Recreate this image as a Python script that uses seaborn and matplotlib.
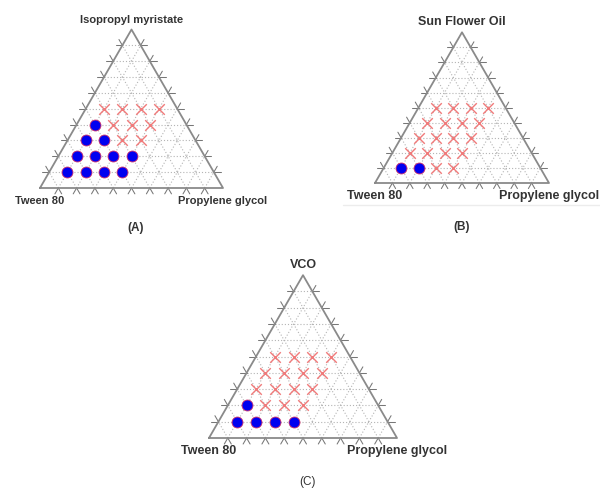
import numpy as np
import pandas as pd
import matplotlib
matplotlib.use('Agg')
import matplotlib.pyplot as plt
import seaborn as sns
from matplotlib.lines import Line2D

# compositions (fraction of oil, fraction of propylene glycol); Tween 80 is the rest
oil_A = [0.1, 0.1, 0.1, 0.1, 0.2, 0.2, 0.2, 0.2, 0.3, 0.3, 0.3, 0.3, 0.4, 0.4, 0.4, 0.4, 0.5, 0.5, 0.5, 0.5]
pg_A = [0.1, 0.2, 0.3, 0.4, 0.1, 0.2, 0.3, 0.4, 0.1, 0.2, 0.3, 0.4, 0.1, 0.2, 0.3, 0.4, 0.1, 0.2, 0.3, 0.4]
phase_A = ['clear', 'clear', 'clear', 'clear', 'clear', 'clear', 'clear', 'clear', 'clear', 'clear',
           'turbid', 'turbid', 'clear', 'turbid', 'turbid', 'turbid', 'turbid', 'turbid', 'turbid', 'turbid']

oil_B = [0.1, 0.1, 0.1, 0.1, 0.2, 0.2, 0.2, 0.2, 0.3, 0.3, 0.3, 0.3, 0.4, 0.4, 0.4, 0.4, 0.5, 0.5, 0.5, 0.5]
pg_B = [0.1, 0.2, 0.3, 0.4, 0.1, 0.2, 0.3, 0.4, 0.1, 0.2, 0.3, 0.4, 0.1, 0.2, 0.3, 0.4, 0.1, 0.2, 0.3, 0.4]
phase_B = ['clear', 'clear', 'turbid', 'turbid', 'turbid', 'turbid', 'turbid', 'turbid', 'turbid', 'turbid',
           'turbid', 'turbid', 'turbid', 'turbid', 'turbid', 'turbid', 'turbid', 'turbid', 'turbid', 'turbid']

oil_C = [0.1, 0.1, 0.1, 0.1, 0.2, 0.2, 0.2, 0.2, 0.3, 0.3, 0.3, 0.3, 0.4, 0.4, 0.4, 0.4, 0.5, 0.5, 0.5, 0.5]
pg_C = [0.1, 0.2, 0.3, 0.4, 0.1, 0.2, 0.3, 0.4, 0.1, 0.2, 0.3, 0.4, 0.1, 0.2, 0.3, 0.4, 0.1, 0.2, 0.3, 0.4]
phase_C = ['clear', 'clear', 'clear', 'clear', 'clear', 'turbid', 'turbid', 'turbid', 'turbid', 'turbid',
           'turbid', 'turbid', 'turbid', 'turbid', 'turbid', 'turbid', 'turbid', 'turbid', 'turbid', 'turbid']

oils = ['Isopropyl myristate', 'Sun Flower Oil', 'VCO']
letters = ['(A)', '(B)', '(C)']

sns.set_style('white')
plt.rcParams['font.family'] = ['Liberation Sans', 'DejaVu Sans']

H = np.sqrt(3) / 2
W, HT = 600, 488
GRID = '#b4b4b4'
EDGE = '#8a8a8a'


def to_xy(oil, pg):
    oil = np.asarray(oil)
    pg = np.asarray(pg)
    return pg + oil / 2, oil * H


def ternary(ax, df, title, fs):
    ax.set_xlim(0, 1)
    ax.set_ylim(0, H)
    ax.axis('off')
    L = 0.037
    for k in range(1, 10):
        t = k / 10
        kw = dict(color=GRID, lw=0.8, ls=(0, (1, 1.8)), zorder=1)
        ax.plot([t / 2, 1 - t / 2], [t * H, t * H], **kw)
        ax.plot([t, t + (1 - t) / 2], [0, (1 - t) * H], **kw)
        ax.plot([t, t / 2], [0, t * H], **kw)
        tk = dict(color='#777777', lw=0.75, clip_on=False, zorder=2)
        # left side
        px, py = t / 2, t * H
        ax.plot([px, px - L], [py, py], **tk)
        ax.plot([px, px - L * 0.5], [py, py + L * H], **tk)
        # right side
        qx, qy = t + (1 - t) / 2, (1 - t) * H
        ax.plot([qx, qx + L], [qy, qy], **tk)
        ax.plot([qx, qx + L * 0.5], [qy, qy + L * H], **tk)
        # base
        ax.plot([t, t - L * 0.5], [0, -L * H], **tk)
        ax.plot([t, t + L * 0.5], [0, -L * H], **tk)
    ax.plot([0, 1, 0.5, 0], [0, 0, H, 0], color=EDGE, lw=1.3, clip_on=False, zorder=3)

    clear = df[df['phase'] == 'clear']
    turbid = df[df['phase'] == 'turbid']
    sns.scatterplot(data=clear, x='x', y='y', ax=ax, marker='o', s=62, color='#0000f0',
                    edgecolor='#d0306a', linewidth=0.6, zorder=5, clip_on=False)
    sns.scatterplot(data=turbid, x='x', y='y', ax=ax, marker='x', s=58, color='#f07a7a',
                    linewidth=1.0, zorder=4, clip_on=False)

    tx = dict(ha='center', va='center', fontsize=fs, fontweight='bold', color='#333333',
              textcoords='offset pixels', annotation_clip=False)
    ax.annotate(title, xy=(0.5, H), xytext=(0, 10), **tx)
    ax.annotate('Tween 80', xy=(0, 0), xytext=(0, -13), **tx)
    ax.annotate('Propylene glycol', xy=(1, 0), xytext=(0, -13), **tx)


fig = plt.figure(figsize=(6, 4.88), dpi=100)
fig.patch.set_facecolor('white')

# triangle placement in pixels: base-left x, base y, side length
spots = [(40, 188, 183), (375, 183, 174), (209, 438, 188)]
sizes = [8, 9, 9]
datas = [(oil_A, pg_A, phase_A), (oil_B, pg_B, phase_B), (oil_C, pg_C, phase_C)]

for (x0, yb, s), fs, (oil, pg, ph), title in zip(spots, sizes, datas, oils):
    ax = fig.add_axes([x0 / W, (HT - yb) / HT, s / W, s * H / HT])
    xs, ys = to_xy(oil, pg)
    df = pd.DataFrame({'oil': oil, 'pg': pg, 'phase': ph, 'x': xs, 'y': ys})
    ternary(ax, df, title, fs)

fig.add_artist(Line2D([343 / W, 1.0], [1 - 205 / HT] * 2, color='#ececec', lw=1))

fig.text(136 / W, 1 - 228 / HT, letters[0], ha='center', va='center', fontsize=8.5,
         fontweight='bold', color='#333333')
fig.text(462 / W, 1 - 227 / HT, letters[1], ha='center', va='center', fontsize=8.5,
         fontweight='bold', color='#333333')
fig.text(307 / W, 1 - 482 / HT, letters[2], ha='center', va='center', fontsize=8.5,
         color='#333333')

fig.savefig('out.png', dpi=100)
